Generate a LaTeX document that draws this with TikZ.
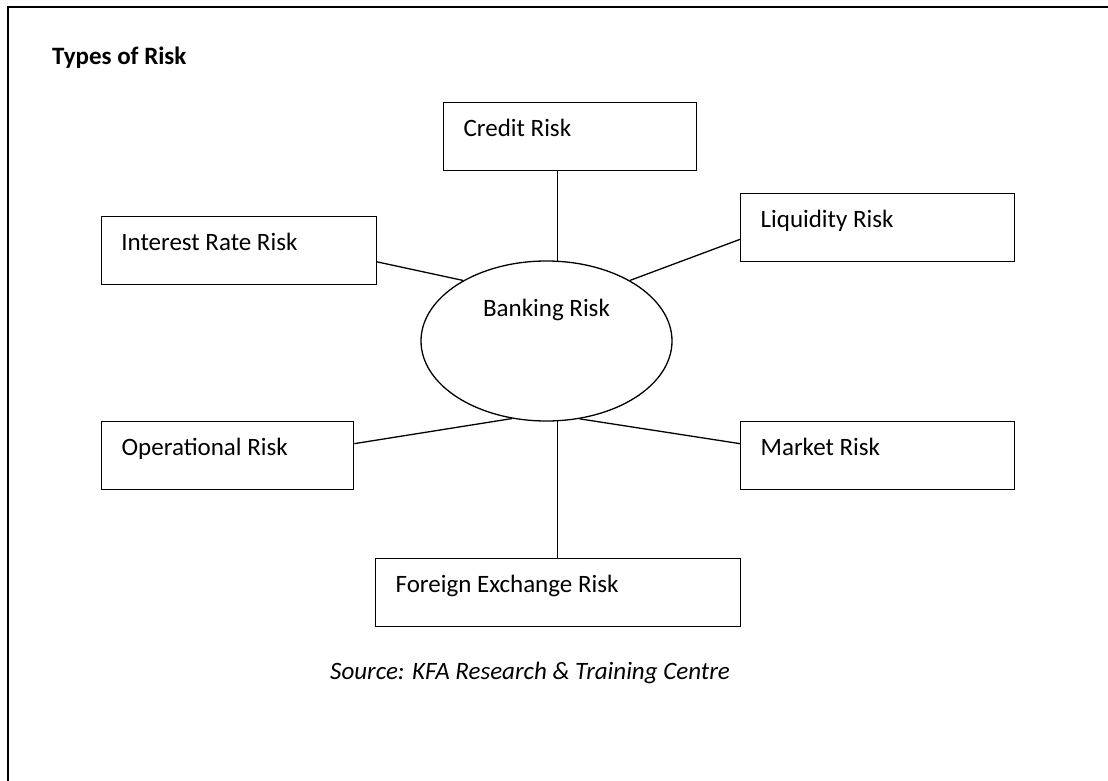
\documentclass[tikz,border=0pt]{standalone}
\usepackage{fontspec}
\setmainfont{Carlito}
\usetikzlibrary{shapes.geometric}

\tikzset{
  riskbox/.style={draw, line width=1.3pt, anchor=north west, inner xsep=20pt, inner ysep=0pt,
    text height=34pt, text depth=34pt, align=flush left, text width=#1, font=\fontsize{25}{30}\selectfont},
  link/.style={line width=1.3pt}
}

\begin{document}
\begin{tikzpicture}[x=1pt, y=-1pt] % one unit per pixel, y pointing down
	\useasboundingbox (0,0) rectangle (1108,781);
	
	% Outer frame (only top and left edges fall inside the page)
	\draw[line width=1.6pt] (8,800) -- (8,7) -- (1120,7);
	
	% Title
	\node[anchor=base west, inner sep=0pt, font=\fontsize{25}{30}\bfseries] (title) at (52,65) {Types of Risk};
	
	% Centre ellipse
	\node[draw, ellipse, line width=1.3pt, minimum width=251pt, minimum height=160pt, inner sep=0pt] (bank) at (546.5,341) {};
	\node[anchor=base, inner sep=0pt, font=\fontsize{25}{30}\selectfont] (banktext) at (546.5,316) {Banking Risk};
	
	% The six kinds of risk
	\node[riskbox=213pt] (credit) at (443,101.7) {Credit Risk};
	\node[riskbox=235pt] (interest) at (100.7,215.7) {Interest Rate Risk};
	\node[riskbox=234pt] (liquidity) at (740,192.7) {Liquidity Risk};
	\node[riskbox=212pt] (operational) at (101,421) {Operational Risk};
	\node[riskbox=234pt] (market) at (740,421) {Market Risk};
	\node[riskbox=325pt] (foreign) at (375,557.7) {Foreign Exchange Risk};
	
	% Connectors to the ellipse
	\draw[link] (bank.82) -- (bank.82 |- credit.south);
	\draw[link] ([yshift=-11.5pt]interest.east) -- (bank.144);
	\draw[link] ([yshift=-12pt]liquidity.west) -- (bank.36);
	\draw[link] ([yshift=12pt]operational.east) -- (bank.246.5);
	\draw[link] ([yshift=12pt]market.west) -- (bank.293.5);
	\draw[link] (bank.278) -- (bank.278 |- foreign.north);
	
	% Source line
	\node[anchor=base east, inner sep=0pt, font=\fontsize{25}{30}\itshape] (source) at (730,679) {Source: KFA Research \& Training Centre};
\end{tikzpicture}
\end{document}
